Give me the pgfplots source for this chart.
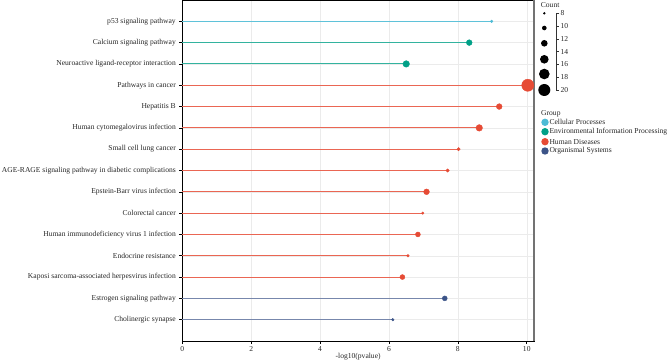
\documentclass[border=0pt]{standalone}
\usepackage{fontspec}
\setmainfont{Liberation Serif}
\usepackage{pgfplots}
\usepackage{pgfplotstable}
\pgfplotsset{compat=1.18}
\definecolor{cellcol}{HTML}{4DBBD5}
\definecolor{envcol}{HTML}{00A087}
\definecolor{humcol}{HTML}{E64B35}
\definecolor{orgcol}{HTML}{3C5488}
\definecolor{gridcol}{HTML}{EBEBEB}
\definecolor{txtcol}{HTML}{262626}

\pgfplotstableread{
y x count
15 8.98 8
}\cellular
\pgfplotstableread{
y x count
14 8.33 12
13 6.50 13
}\environ
\pgfplotstableread{
y x count
12 10.03 20
11 9.20 12
10 8.62 13
9 8.02 9
8 7.70 9
7 7.09 12
6 6.98 8
5 6.84 11
4 6.55 8
3 6.39 11
}\human
\pgfplotstableread{
y x count
2 7.62 11
1 6.11 8
}\organismal

\newcommand{\fs}{\fontsize{7.6}{8.5}\selectfont}

\begin{document}
\begin{tikzpicture}[x=1bp,y=1bp]
\begin{axis}[
  at={(182.3bp,22bp)}, anchor=south west,
  scale only axis, width=351.7bp, height=341bp,
  xmin=0, xmax=10.21, ymin=0, ymax=16,
  xtick={0,2,4,6,8,10},
  ytick={1,...,15},
  yticklabels={Cholinergic synapse, Estrogen signaling pathway, Kaposi sarcoma-associated herpesvirus infection, Endocrine resistance, Human immunodeficiency virus 1 infection, Colorectal cancer, Epstein-Barr virus infection, AGE-RAGE signaling pathway in diabetic complications, Small cell lung cancer, Human cytomegalovirus infection, Hepatitis B, Pathways in cancer, Neuroactive ligand-receptor interaction, Calcium signaling pathway, p53 signaling pathway},
  grid=major, major grid style={gridcol, line width=0.5pt},
  tick align=outside, tick pos=left,
  major tick length=3bp,
  tick style={black, line width=0.6pt},
  axis line style={black, line width=0.8pt},
  tick label style={font=\fs, text=txtcol},
  /pgf/number format/assume math mode=true,
  xticklabel style={yshift=1pt},
  xlabel={-log10(pvalue)},
  xlabel style={font=\fs, text=txtcol, yshift=5pt},
  clip=false,
]
\addplot[xcomb, cellcol!90!white, line width=1.0pt] table[x=x,y=y]{\cellular};
\addplot[xcomb, envcol!80!white, line width=1.0pt] table[x=x,y=y]{\environ};
\addplot[xcomb, humcol!85!white, line width=1.0pt] table[x=x,y=y]{\human};
\addplot[xcomb, orgcol!70!white, line width=1.0pt] table[x=x,y=y]{\organismal};

\addplot[scatter, only marks, mark=*, scatter/use mapped color={draw=cellcol, fill=cellcol},
  visualization depends on={1.3+0.4*(\thisrow{count}-8) \as \rad},
  scatter/@pre marker code/.append style={/tikz/mark size=\rad}]
  table[x=x,y=y,meta=count]{\cellular};
\addplot[scatter, only marks, mark=*, scatter/use mapped color={draw=envcol, fill=envcol},
  visualization depends on={1.3+0.4*(\thisrow{count}-8) \as \rad},
  scatter/@pre marker code/.append style={/tikz/mark size=\rad}]
  table[x=x,y=y,meta=count]{\environ};
\addplot[scatter, only marks, mark=*, scatter/use mapped color={draw=humcol, fill=humcol},
  visualization depends on={1.3+0.4*(\thisrow{count}-8) \as \rad},
  scatter/@pre marker code/.append style={/tikz/mark size=\rad}]
  table[x=x,y=y,meta=count]{\human};
\addplot[scatter, only marks, mark=*, scatter/use mapped color={draw=orgcol, fill=orgcol},
  visualization depends on={1.3+0.4*(\thisrow{count}-8) \as \rad},
  scatter/@pre marker code/.append style={/tikz/mark size=\rad}]
  table[x=x,y=y,meta=count]{\organismal};

\draw[black!55, line width=1.6pt] (rel axis cs:1,0) -- (rel axis cs:1,1);
\end{axis}

% Count legend
\node[anchor=west, font=\fs, text=txtcol, inner sep=0pt] at (540.7bp,357.7bp) {Count};
\foreach \yy/\rr in {13.3/1.3, 28/2.3, 43.3/3.3, 59.3/4.3, 74/5.3, 90/6.0} {
  \fill[black] (544.3bp,363bp-\yy bp) circle (\rr bp);
}
\draw[black!80, line width=0.6pt] (559.3bp,349.7bp) -- (556.7bp,349.7bp) -- (556.7bp,273bp) -- (559.3bp,273bp);
\foreach \yy/\lab in {13.3/8, 26.1/10, 38.9/12, 51.7/14, 64.4/16, 77.2/18, 90/20} {
  \draw[black!80, line width=0.6pt] (556.7bp,363bp-\yy bp) -- (559.3bp,363bp-\yy bp);
  \node[anchor=west, font=\fs, text=txtcol, inner sep=0pt] at (560.3bp,363bp-\yy bp) {\lab};
}

% Group legend
\node[anchor=west, font=\fs, text=txtcol, inner sep=0pt] at (541bp,248.7bp) {Group};
\foreach \yy/\cc/\lab in {122.3/cellcol/Cellular Processes, 131.7/envcol/Environmental Information Processing, 141.7/humcol/Human Diseases, 151/orgcol/Organismal Systems} {
  \fill[\cc] (545bp,363bp-\yy bp) circle (3.7bp);
  \node[anchor=west, font=\fs, text=txtcol, inner sep=0pt] at (549.3bp,363bp-\yy bp) {\lab};
}

\pgfresetboundingbox
\path[use as bounding box] (0bp,0bp) rectangle (669bp,363bp);
\end{tikzpicture}
\end{document}
